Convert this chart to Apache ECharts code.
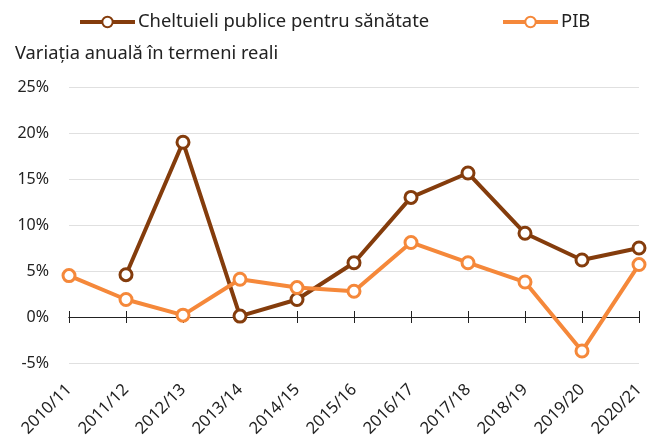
<!DOCTYPE html>
<html>
<head>
<meta charset="utf-8">
<script src="https://cdn.jsdelivr.net/npm/echarts@6/dist/echarts.min.js"></script>
<style>
  html, body { margin: 0; padding: 0; background: #fff; }
  #main { width: 654px; height: 441px; }
</style>
</head>
<body>
<div id="main"></div>
<script>
var years = ['2010/11', '2011/12', '2012/13', '2013/14', '2014/15', '2015/16',
  '2016/17', '2017/18', '2018/19', '2019/20', '2020/21'];

// cheltuieli publice pentru sanatate, % variatie reala
var health = [null, 4.6, 19.0, 0.1, 1.9, 5.9, 13.0, 15.65, 9.1, 6.2, 7.5];
var gdp = [4.5, 1.9, 0.2, 4.1, 3.2, 2.8, 8.1, 5.9, 3.8, -3.7, 5.7];

var yMin = -5, yMax = 25;

var brown = '#843c0c';
var orange = '#f5883a';
var font = 'Noto Sans';

var gridTop = 87, gridBottom = 78, chartH = 441;

var chart = echarts.init(document.getElementById('main'));

function lineSeries(name, data, color) {
  return {
    name: name,
    type: 'line',
    data: data,
    xAxisIndex: 0,
    symbol: 'circle',
    symbolSize: 12,
    showAllSymbol: true,
    connectNulls: false,
    lineStyle: { color: color, width: 4 },
    itemStyle: { color: '#fff', borderColor: color, borderWidth: 3 },
    z: 5
  };
}

function legendAt(left, name) {
  return {
    top: 8,
    left: left,
    itemWidth: 55,
    itemHeight: 13,
    lineStyle: { width: 4 },
    textStyle: { fontSize: 18.4, color: '#222', fontFamily: font, padding: [0, 0, 0, -2] },
    data: [name]
  };
}

// zero line: one axis sits on zero with ticks down, a second one is
// shifted up to the same place and draws the ticks upward
var plotH = chartH - gridTop - gridBottom;
var zeroOffset = -plotH * (0 - yMin) / (yMax - yMin);

var zeroDown = {
  type: 'category',
  data: years,
  boundaryGap: false,
  position: 'bottom',
  axisLine: { show: true, onZero: true, lineStyle: { color: '#222', width: 1 } },
  axisTick: { show: true, inside: false, length: 6, interval: 0, lineStyle: { color: '#222' } },
  axisLabel: { show: false }
};
var zeroUp = {
  type: 'category',
  data: years,
  boundaryGap: false,
  position: 'bottom',
  offset: zeroOffset,
  axisLine: { show: true, onZero: false, lineStyle: { color: '#222', width: 1 } },
  axisTick: { show: true, inside: true, length: 6, interval: 0, lineStyle: { color: '#222' } },
  axisLabel: { show: false }
};

var option = {
  animation: false,
  textStyle: { fontFamily: font },
  title: {
    text: 'Variația anuală în termeni reali',
    left: 10,
    top: 40,
    textStyle: { fontSize: 18.3, fontWeight: 'normal', color: '#222', fontFamily: font }
  },
  legend: [
    legendAt(73, 'Cheltuieli publice pentru sănătate'),
    legendAt(496, 'PIB')
  ],
  grid: {
    left: 69, right: 15, top: gridTop, bottom: gridBottom,
    containLabel: false, outerBoundsMode: 'none'
  },
  xAxis: [{
    type: 'category',
    data: years,
    boundaryGap: false,
    position: 'bottom',
    axisLine: { show: false, onZero: false },
    axisTick: { show: false },
    axisLabel: { rotate: 45, fontSize: 16.5, color: '#222', margin: 24, interval: 0 }
  }, zeroDown, zeroUp],
  yAxis: {
    type: 'value',
    min: yMin,
    max: yMax,
    interval: 5,
    axisLine: { show: false },
    axisTick: { show: false },
    axisLabel: { formatter: '{value}%', fontSize: 16, color: '#222', margin: 20 },
    splitLine: { lineStyle: { color: '#e0e0e0', width: 1 } }
  },
  series: [
    lineSeries('Cheltuieli publice pentru sănătate', health, brown),
    lineSeries('PIB', gdp, orange)
  ]
};

chart.setOption(option);
</script>
</body>
</html>
